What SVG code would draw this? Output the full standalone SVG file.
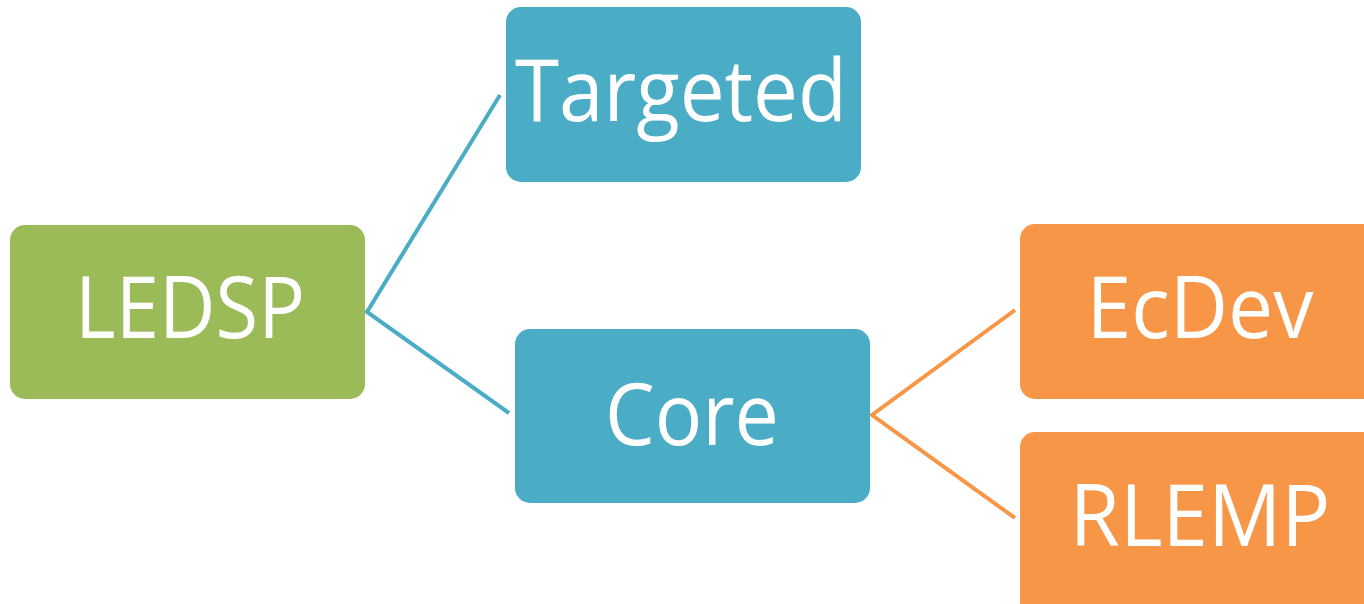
<svg xmlns="http://www.w3.org/2000/svg" width="1364" height="604" viewBox="0 0 1364 604">
<style>
.lbl{font-family:"Open Sans","Liberation Sans",sans-serif;font-size:86px;fill:#ffffff;text-anchor:middle}
.g{fill:#9BBB59}.b{fill:#4BACC6}.o{fill:#F79646}
.conn{fill:none;stroke-width:4;stroke-linejoin:miter}
</style>
<rect width="1364" height="604" fill="#ffffff"/>
<g id="connectors">
<polyline class="conn" stroke="#4BACC6" points="500,95 367,312 509,413"/>
<polyline class="conn" stroke="#F79646" points="1015,310 872,415 1015,518"/>
</g>
<g id="ledsp">
<rect class="g" x="10" y="225" width="355" height="174" rx="15"/>
<text class="lbl" x="190" y="338" textLength="230" lengthAdjust="spacingAndGlyphs">LEDSP</text>
</g>
<g id="targeted">
<rect class="b" x="506" y="7" width="355" height="175" rx="15"/>
<text class="lbl" x="681" y="121" textLength="332" lengthAdjust="spacingAndGlyphs">Targeted</text>
</g>
<g id="core">
<rect class="b" x="515" y="329" width="355" height="174" rx="15"/>
<text class="lbl" x="692" y="445" textLength="174" lengthAdjust="spacingAndGlyphs">Core</text>
</g>
<g id="ecdev">
<rect class="o" x="1020" y="224" width="360" height="175" rx="15"/>
<text class="lbl" x="1200" y="338" textLength="227" lengthAdjust="spacingAndGlyphs">EcDev</text>
</g>
<g id="rlemp">
<rect class="o" x="1020" y="432" width="360" height="185" rx="15"/>
<text class="lbl" x="1200" y="546" textLength="261" lengthAdjust="spacingAndGlyphs">RLEMP</text>
</g>
</svg>
